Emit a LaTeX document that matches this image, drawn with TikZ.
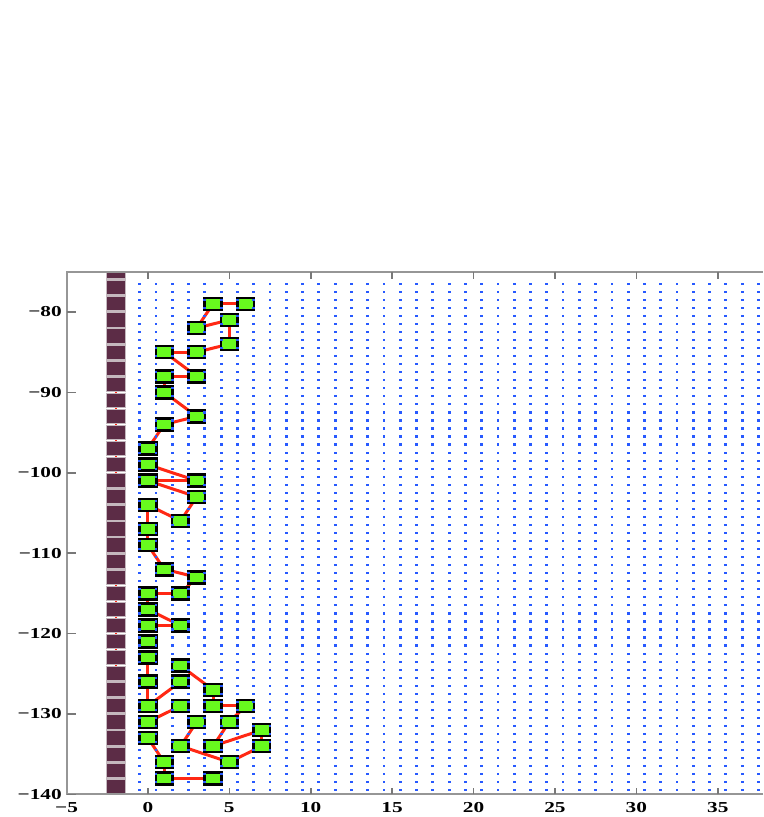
\documentclass[tikz,border=0pt]{standalone}
\usepackage{fontspec}
\setmainfont{Liberation Serif}
\definecolor{gnode}{RGB}{104,250,30}
\definecolor{bnode}{RGB}{92,44,70}
\definecolor{bborder}{RGB}{196,184,190}
\definecolor{edgec}{RGB}{255,40,20}
\definecolor{dotc}{RGB}{40,90,255}
\definecolor{axisc}{RGB}{150,150,150}
\pgfdeclarelayer{bg}
\pgfdeclarelayer{links}
\pgfsetlayers{bg,links,main}
\tikzset{
  gbox/.style={draw=black, line width=1.3pt, fill=gnode, minimum width=8.3pt, minimum height=6.0pt, inner sep=0pt},
  bbox/.style={draw=bborder, line width=0.6pt, fill=bnode, minimum width=9.3pt, minimum height=7.2pt, inner sep=0pt},
  link/.style={draw=edgec, line width=1.5pt},
  buslink/.style={draw=edgec, line width=0.9pt},
  axisline/.style={draw=axisc, line width=1pt},
  tickline/.style={draw=axisc!80!black, line width=0.8pt},
  ticklab/.style={font=\fontsize{7.6pt}{8pt}\selectfont\bfseries, inner sep=0pt, text=black}
}
\newcommand{\wide}[1]{\scalebox{1.4}[1]{#1}}
\begin{document}
\begin{tikzpicture}[x=8.14pt,y=4.02pt]
\begin{pgfonlayer}{bg}
\fill[white] (-9.085,-142.82) rectangle (37.78,-41.21);
\end{pgfonlayer}
\useasboundingbox (-9.085,-142.82) rectangle (37.78,-41.21);
\begin{scope}
\clip (-5,-140) rectangle (37.78,-75);
% bus column
\foreach \k in {0,...,32} {
  \node[bbox] (b\k) at (-1.95,{-75-2*\k}) {};
}
\begin{pgfonlayer}{links}
\foreach \k in {0,...,31} {
  \pgfmathtruncatemacro{\kn}{\k+1}
  \draw[buslink] (b\k.center) -- (b\kn.center);
}
\end{pgfonlayer}
% nodes
\foreach \n/\x/\y in {A/4/-79,B/6/-79,C/5/-81,D/3/-82,E/5/-84,F/1/-85,G/3/-85,H/1/-88,I/3/-88,J/1/-90,K/3/-93,L/1/-94,M/0/-97,N/0/-99,O/0/-101,P/3/-101,Q/3/-103,R/0/-104,S/2/-106,T/0/-107,U/0/-109,V/1/-112,W/3/-113,X/0/-115,Y/2/-115,Z/0/-117,AA/0/-119,AB/2/-119,AC/0/-121,AD/0/-123,AE/2/-124,AF/0/-126,AG/2/-126,AH/4/-127,AI/0/-129,AJ/2/-129,AK/4/-129,AL/6/-129,AM/0/-131,AN/3/-131,AO/5/-131,AP/7/-132,AQ/0/-133,AR/2/-134,AS/4/-134,AT/7/-134,AU/1/-136,AV/5/-136,AW/1/-138,AX/4/-138} {
  \node[gbox] (\n) at (\x,\y) {};
}
% links
\begin{pgfonlayer}{links}
\foreach \a/\b in {A/B,A/D,D/C,C/E,E/G,F/G,F/I,H/I,H/J,J/K,K/L,L/M,N/P,O/P,O/Q,Q/S,R/S,R/T,T/U,U/V,V/W,W/Y,X/Y,X/Z,Z/AB,AA/AB,AD/AF,AF/AI,AI/AG,AE/AH,AH/AK,AM/AJ,AK/AL,AL/AO,AN/AR,AO/AS,AS/AP,AP/AT,AR/AV,AV/AT,AQ/AU,AU/AW,AW/AX} {
  \draw[link] (\a.center) -- (\b.center);
}
\end{pgfonlayer}
% dot grid
\foreach \i in {0,...,38} {
  \foreach \j in {0,...,63} {
    \fill[dotc] ({\i-0.5},{-76.5-\j}) ++(-0.7pt,-0.55pt) rectangle ++(1.4pt,1.1pt);
  }
}
\end{scope}
% axes
\coordinate (bl) at (-5,-140);
\coordinate (tl) at (-5,-75);
\coordinate (tr) at (37.78,-75);
\coordinate (br) at (37.78,-140);
\draw[axisline] (br) -- (bl) -- (tl) -- (tr);
\foreach \y in {80,90,...,140} {
  \coordinate (lt\y) at (-5,-\y);
  \draw[tickline] (lt\y) -- ++(4.6pt,0);
}
\foreach \x in {0,5,...,35} {
  \coordinate (bt\x) at (\x,-140);
  \coordinate (tt\x) at (\x,-75);
  \draw[tickline] (bt\x) -- ++(0,3pt);
  \draw[tickline] (tt\x) -- ++(0,-3.5pt);
}
% tick labels
\foreach \y/\lab in {80/−80,90/−90,100/−100,110/−110,120/−120,130/−130,140/−140} {
  \node[ticklab, anchor=east, xshift=-2.2pt] (yl\y) at (lt\y) {\wide{\lab}};
}
\foreach \x/\lab in {-5/−5,0/0,5/5,10/10,15/15,20/20,25/25,30/30,35/35} {
  \node[ticklab, anchor=base, yshift=-9.3pt] (xl\x) at (\x,-140) {\wide{\lab}};
}
\end{tikzpicture}
\end{document}
